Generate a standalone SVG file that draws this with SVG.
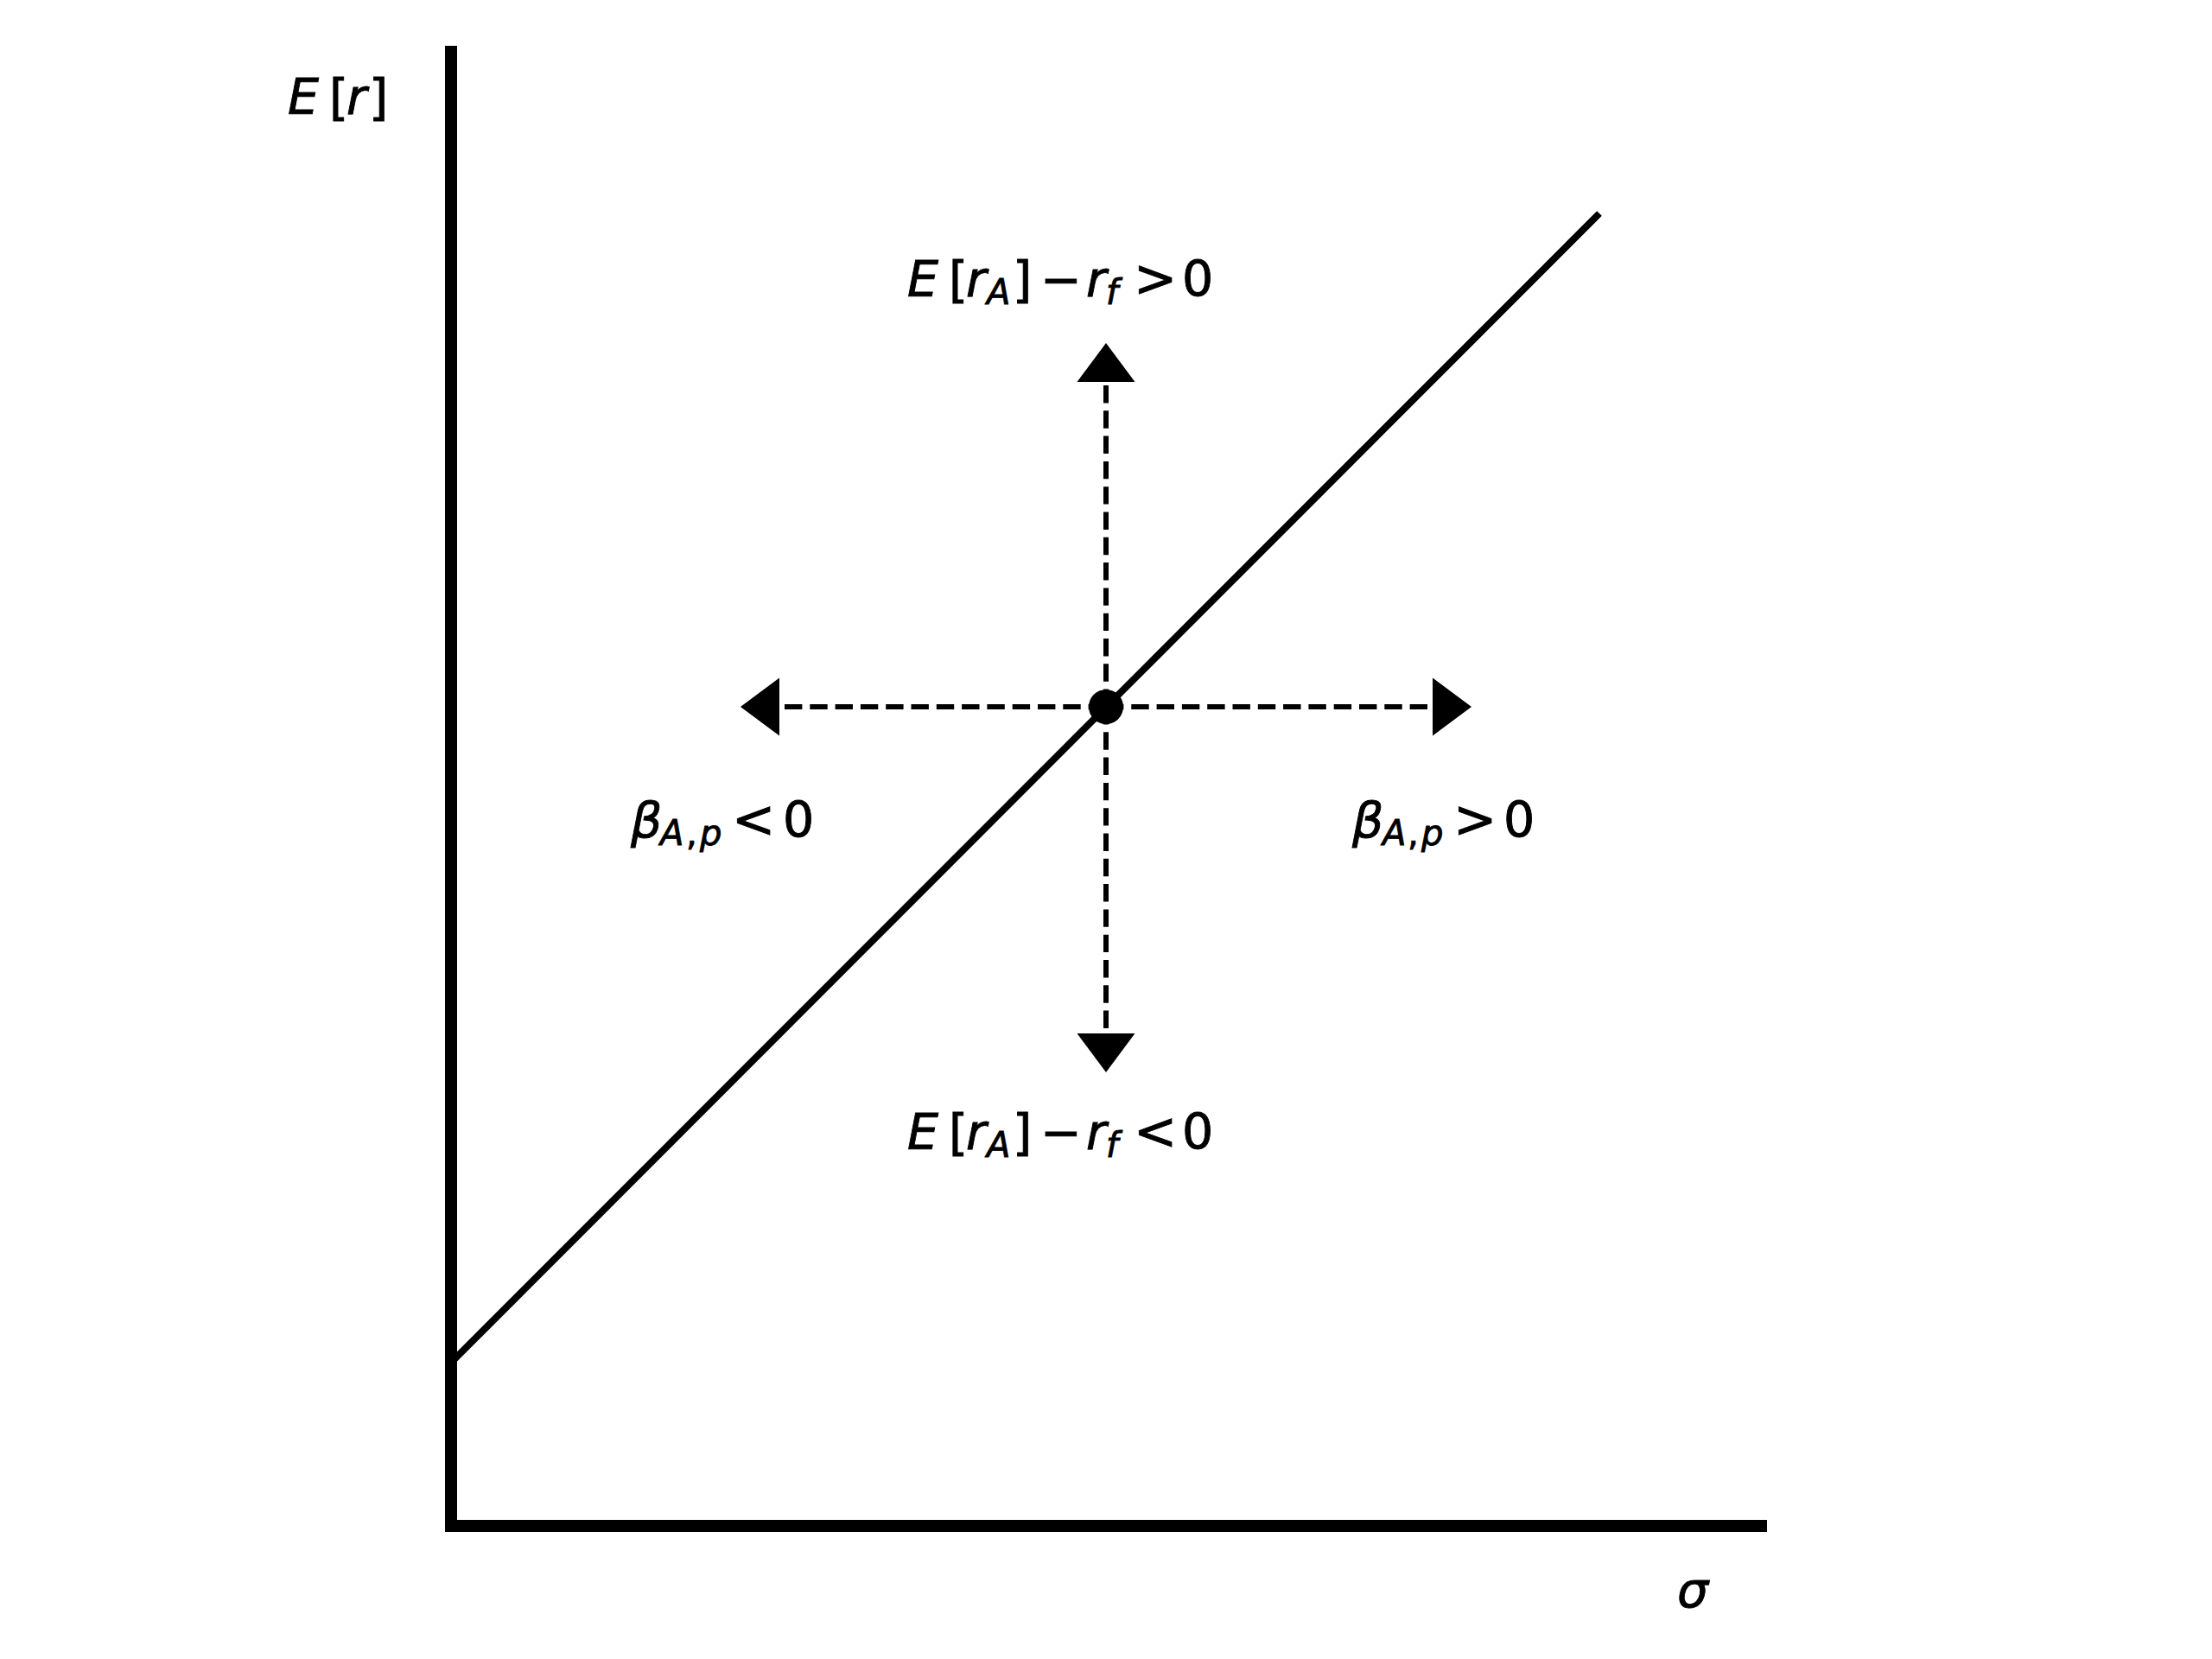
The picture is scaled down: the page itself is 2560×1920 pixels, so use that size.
<svg xmlns="http://www.w3.org/2000/svg" width="2560" height="1920" viewBox="0 0 2560 1920">
<style>
.t{font-family:"DejaVu Sans","Liberation Sans",sans-serif;font-size:57px;fill:#000;stroke:#000;stroke-width:0.9}
.i{font-style:italic}
.s{font-size:40px}
.op{font-size:60px}
.dash{stroke:#000;stroke-width:6;fill:none;stroke-dasharray:20.4 8.9}
.head{fill:#000}
</style>
<rect width="2560" height="1920" fill="#fff"/>
<g id="axes">
<path d="M522,53 L522,1766 L2045,1766" fill="none" stroke="#000" stroke-width="14" stroke-linejoin="miter"/>
</g>
<g id="line">
<line x1="522" y1="1577" x2="1851" y2="247" stroke="#000" stroke-width="8"/>
</g>
<g id="connectors">
<line class="dash" x1="1280" y1="818" x2="1280" y2="442"/>
<line class="dash" x1="1280" y1="818" x2="1280" y2="1196"/>
<line class="dash" x1="1280" y1="818" x2="902" y2="818"/>
<line class="dash" x1="1280" y1="818" x2="1658" y2="818"/>
<polygon class="head" points="1280,397 1313.5,442 1246.5,442"/>
<polygon class="head" points="1280,1241 1313.5,1196 1246.5,1196"/>
<polygon class="head" points="857,818 902,784.5 902,851.5"/>
<polygon class="head" points="1703,818 1658,784.5 1658,851.5"/>
</g>
<g id="point">
<circle cx="1280" cy="818" r="20" fill="#000"/>
</g>
<g id="label-Er">
<text class="t" y="132"><tspan class="i" x="333">E</tspan><tspan x="381">[</tspan><tspan class="i" x="401">r</tspan><tspan x="427">]</tspan></text>
</g>
<g id="label-up">
<text class="t" y="343"><tspan class="i" x="1050">E</tspan><tspan x="1098">[</tspan><tspan class="i" x="1118">r</tspan><tspan class="i s" x="1142" y="352">A</tspan><tspan x="1172" y="343">]</tspan><tspan x="1204">−</tspan><tspan class="i" x="1257">r</tspan><tspan class="i s" x="1280" y="352">f</tspan><tspan class="op" x="1312" y="343">&gt;</tspan><tspan x="1368">0</tspan></text>
</g>
<g id="label-down">
<text class="t" y="1330"><tspan class="i" x="1050">E</tspan><tspan x="1098">[</tspan><tspan class="i" x="1118">r</tspan><tspan class="i s" x="1142" y="1339">A</tspan><tspan x="1172" y="1330">]</tspan><tspan x="1204">−</tspan><tspan class="i" x="1257">r</tspan><tspan class="i s" x="1280" y="1339">f</tspan><tspan class="op" x="1312" y="1330">&lt;</tspan><tspan x="1368">0</tspan></text>
</g>
<g id="label-left">
<text class="t" y="969"><tspan class="i" x="730">β</tspan><tspan class="i s" x="764" y="978">A</tspan><tspan class="s" x="794" y="978">,</tspan><tspan class="i s" x="810" y="978">p</tspan><tspan class="op" x="847" y="969">&lt;</tspan><tspan x="906">0</tspan></text>
</g>
<g id="label-right">
<text class="t" y="969"><tspan class="i" x="1565">β</tspan><tspan class="i s" x="1600" y="978">A</tspan><tspan class="s" x="1629" y="978">,</tspan><tspan class="i s" x="1645" y="978">p</tspan><tspan class="op" x="1682" y="969">&gt;</tspan><tspan x="1740">0</tspan></text>
</g>
<g id="label-sigma">
<text class="t i" x="1941" y="1860">σ</text>
</g>
</svg>
